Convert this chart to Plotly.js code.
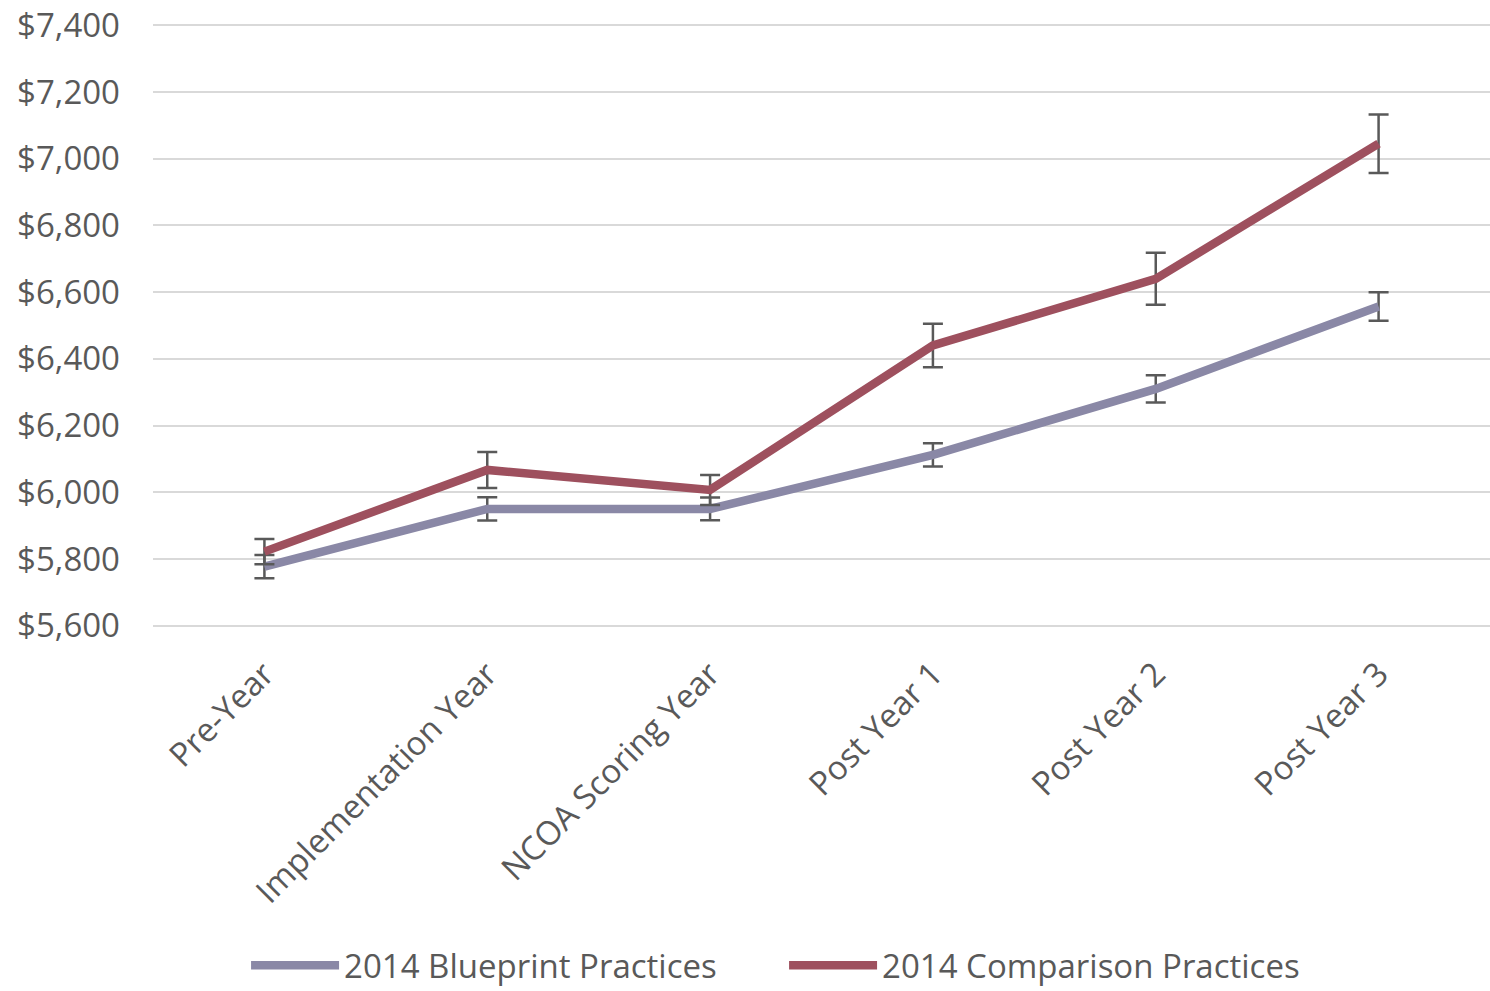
<!DOCTYPE html>
<html>
<head>
<meta charset="utf-8">
<script src="https://cdn.plot.ly/plotly-3.0.1.min.js"></script>
<style>html,body{margin:0;padding:0;background:#fff;}#chart{width:1490px;height:991px;}</style>
</head>
<body>
<div id="chart"></div>
<script>
const categories = ["Pre-Year", "Implementation Year", "NCOA Scoring Year", "Post Year 1", "Post Year 2", "Post Year 3"];
const blueprintValues = [5777, 5950, 5950, 6112, 6310, 6557];
const blueprintErrors = [35, 35, 34, 35, 41, 43];
const comparisonValues = [5822, 6067, 6007, 6440, 6640, 7045];
const comparisonErrors = [38, 54, 45, 65, 78, 88];
const yTickValues = [5600, 5800, 6000, 6200, 6400, 6600, 6800, 7000, 7200, 7400];
const yTickLabels = ["$5,600", "$5,800", "$6,000", "$6,200", "$6,400", "$6,600", "$6,800", "$7,000", "$7,200", "$7,400"];

const errStyle = {color: '#595959', thickness: 2.5, width: 10};

const traces = [
  {
    x: categories, y: blueprintValues, type: 'scatter', mode: 'lines',
    name: '2014 Blueprint Practices',
    line: {color: '#8A88A6', width: 8.5},
    error_y: Object.assign({type: 'data', array: blueprintErrors, visible: true}, errStyle)
  },
  {
    x: categories, y: comparisonValues, type: 'scatter', mode: 'lines',
    name: '2014 Comparison Practices',
    line: {color: '#9E505E', width: 8.5},
    error_y: Object.assign({type: 'data', array: comparisonErrors, visible: true}, errStyle)
  }
];

const layout = {
  width: 1490, height: 991,
  margin: {l: 153, r: 0, t: 22, b: 362},
  paper_bgcolor: '#ffffff', plot_bgcolor: '#ffffff',
  font: {family: '"Open Sans", "Liberation Sans", sans-serif', color: '#595959', size: 33},
  showlegend: true,
  legend: {
    orientation: 'h', x: 0.472, xanchor: 'center', y: 0.026, yref: 'container', yanchor: 'middle',
    font: {size: 33, color: '#595959'}, itemwidth: 88, entrywidth: 435, traceorder: 'normal'
  },
  xaxis: {
    type: 'category', range: [-0.5, 5.5], tickangle: -45,
    showgrid: false, zeroline: false, showline: false, ticks: '', ticklabelstandoff: 18,
    tickfont: {size: 33, color: '#595959'}, automargin: false
  },
  yaxis: {
    range: [5590, 7410], tickvals: yTickValues, ticktext: yTickLabels,
    showgrid: true, gridcolor: '#d9d9d9', gridwidth: 2, zeroline: false, showline: false,
    ticks: '', ticklabelstandoff: 32,
    tickfont: {size: 33, color: '#595959'}, automargin: false
  }
};

Plotly.newPlot('chart', traces, layout, {displayModeBar: false, staticPlot: true});
</script>
</body>
</html>
